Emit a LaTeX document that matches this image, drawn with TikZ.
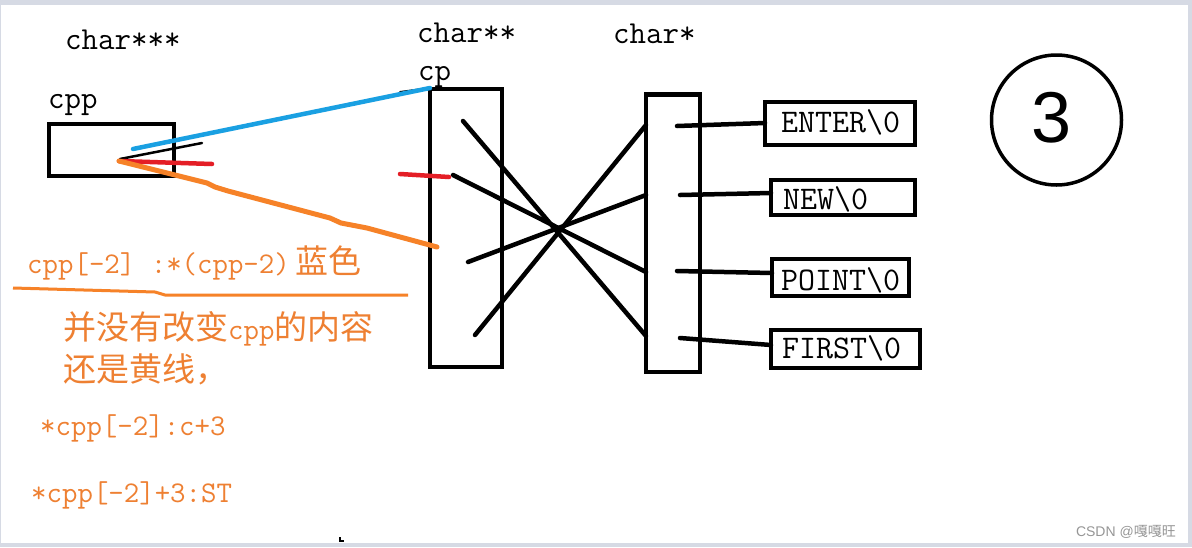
\documentclass[tikz,border=0pt]{standalone}
\usepackage{fontspec}
\newfontfamily\cjk{Noto Sans CJK SC}
\newfontfamily\wmfont{Liberation Sans}
\newcommand\zhtxt[1]{{\cjk\fontsize{33}{33}\selectfont #1}}
\definecolor{lineblue}{RGB}{26,160,226}
\definecolor{linered}{RGB}{228,30,38}
\definecolor{lineorange}{RGB}{246,130,40}
\definecolor{textorange}{RGB}{238,128,50}
\definecolor{framegray}{RGB}{214,218,228}
\definecolor{wmgray}{RGB}{150,150,150}
\begin{document}
\begin{tikzpicture}[x=1pt,y=-1pt,
  frame/.style={draw=black,line width=4.5pt,inner sep=0pt,outer sep=0pt},
  lbl/.style={anchor=base west,inner sep=0pt,font=\ttfamily\fontsize{32}{32}\selectfont},
  strtxt/.style={anchor=base west,inner sep=0pt,font=\ttfamily\fontsize{33}{33}\selectfont},
  otxt/.style={anchor=base west,inner sep=0pt,text=textorange,font=\ttfamily\fontsize{30}{30}\selectfont},
  link/.style={draw=black,line width=4.5pt,line cap=round},
  pen/.style={line width=4.5pt,line cap=round,line join=round}]
\fill[framegray] (0,0) rectangle (1192,547);
\fill[white] (1,5) rectangle (1188,543);
\useasboundingbox (0,0) rectangle (1192,547);

% labels
\node[lbl] (t3) at (65,49) {char***};
\node[lbl] (tcpp) at (48,108) {cpp};
\node[lbl] (t2) at (417,42) {char**};
\node[lbl] (tcp) at (418,80) {cp};
\node[lbl] (t1) at (613,43) {char*};

% boxes
\node[frame,minimum width=125pt,minimum height=52pt] (cppbox) at (111.5,150) {};
\node[frame,minimum width=72pt,minimum height=278pt] (cpbox) at (466,228) {};
\node[frame,minimum width=54pt,minimum height=277.5pt] (cbox) at (673,233.25) {};
\node[frame,minimum width=150pt,minimum height=43pt] (s1) at (840,123.5) {};
\node[frame,minimum width=144pt,minimum height=35pt] (s2) at (843,197.5) {};
\node[frame,minimum width=137pt,minimum height=37pt] (s3) at (840.5,277.5) {};
\node[frame,minimum width=149pt,minimum height=38pt] (s4) at (845.5,349) {};

\node[strtxt] (st1) at (781,132) {ENTER\textbackslash0};
\node[strtxt] (st2) at (783,209) {NEW\textbackslash0};
\node[strtxt] (st3) at (781,290) {POINT\textbackslash0};
\node[strtxt] (st4) at (782,358) {FIRST\textbackslash0};

% crossing pointers
\coordinate (p1) at (463,121); \coordinate (q1) at (646,336);
\coordinate (p2) at (453,175); \coordinate (q2) at (646,272);
\coordinate (p3) at (468,262); \coordinate (q3) at (646,195);
\coordinate (p4) at (475,335); \coordinate (q4) at (646,125);
\draw[link] (p1) -- (q1);
\draw[link] (p2) -- (q2);
\draw[link] (p3) -- (q3);
\draw[link] (p4) -- (q4);

\coordinate (r1) at (677,126); \coordinate (e1) at (765,123);
\coordinate (r2) at (680,195); \coordinate (e2) at (771,193);
\coordinate (r3) at (677,271); \coordinate (e3) at (772,273);
\coordinate (r4) at (680,338); \coordinate (e4) at (771,345);
\draw[link] (r1) -- (e1);
\draw[link] (r2) -- (e2);
\draw[link] (r3) -- (e3);
\draw[link] (r4) -- (e4);

% coloured strokes
\coordinate (o0) at (119,161);
\coordinate (bl0) at (133,149);
\coordinate (bl1) at (430,88);
\coordinate (bk0) at (120,159);
\coordinate (bk1) at (202,143);
\coordinate (bk2) at (400,92);
\coordinate (rd1) at (212,164);
\coordinate (rd2) at (400,174);
\coordinate (rd3) at (449,177);
\coordinate (or1) at (437,247);
\draw[black,line width=2.5pt,line cap=round] (bk0) -- (bk1);
\draw[black,line width=2pt,line cap=round] (bk2) -- (bl1);
\draw[pen,draw=lineblue] (bl0) -- (bl1);
\draw[pen,draw=linered] (o0) -- (rd1);
\draw[pen,draw=linered] (rd2) -- (rd3);
\draw[pen,draw=lineorange,line width=5pt] (o0) -- (207,183) -- (215,187) -- (228,191) -- (330,218) -- (341,223) -- (367,228) -- (or1);

% orange notes
\coordinate (u0) at (13,288);
\coordinate (u1) at (408,295);
\draw[lineorange,line width=3pt,line join=round] (u0) -- (155,292) -- (165,295) -- (u1);
\node[otxt] (n1) at (27,273) {cpp[-2] :*(cpp-2)\hspace{6pt}\zhtxt{蓝色}};
\node[otxt] (n2) at (63,339) {\zhtxt{并没有改变}cpp\zhtxt{的内容}};
\node[otxt] (n3) at (63,381) {\zhtxt{还是黄线，}};
\node[otxt] (n4) at (40,435) {*cpp[-2]:c+3};
\node[otxt] (n5) at (31,502) {*cpp[-2]+3:ST};

% circled number
\node[draw=black,circle,line width=3.5pt,minimum size=130pt,inner sep=0pt] (circ) at (1056.5,120) {};
\node[inner sep=0pt,font=\wmfont\fontsize{72}{72}\selectfont] (num) at (1052,118) {3};

% small mark and watermark
\fill[black] (339,537) rectangle (341,542);
\fill[black] (339,540) rectangle (344,542);
\node[anchor=base east,inner sep=0pt,text=wmgray,font=\wmfont\fontsize{14}{14}\selectfont] (wm) at (1176,536) {CSDN @{\cjk 嘎嘎旺}};
\end{tikzpicture}
\end{document}
